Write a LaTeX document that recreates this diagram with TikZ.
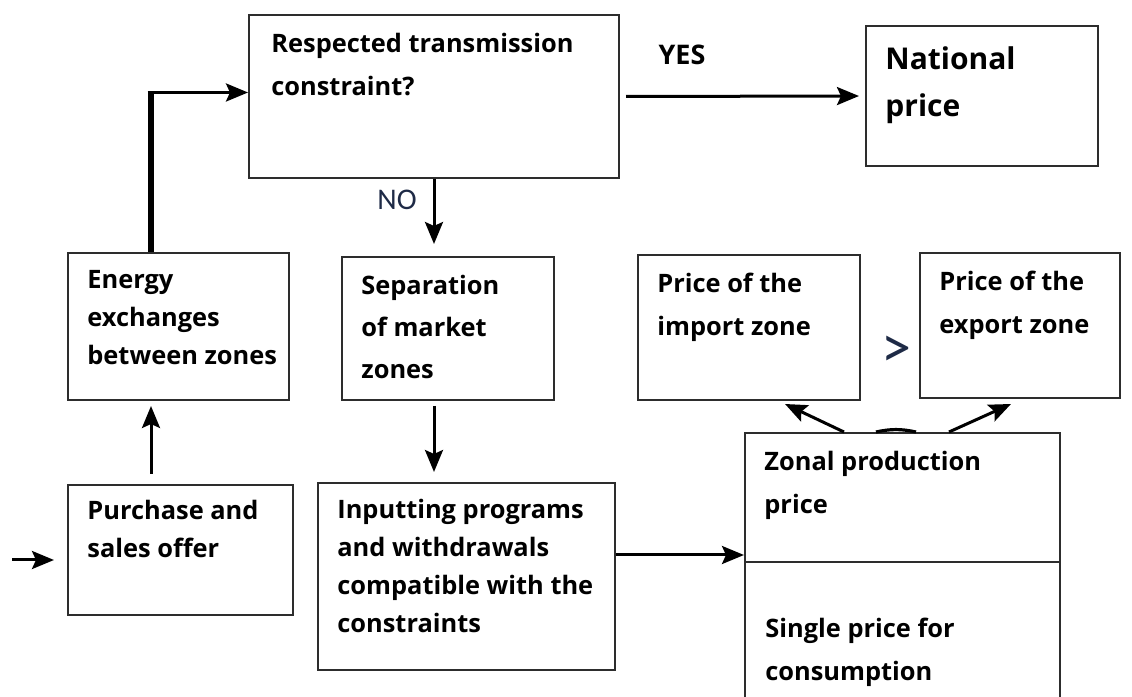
\documentclass[tikz,border=0pt]{standalone}
\usepackage{fontspec}
\setmainfont{Open Sans}
\newfontfamily\narrowfont{Carlito}
\usetikzlibrary{arrows.meta, positioning, fit}
\definecolor{inkline}{RGB}{45,45,45}
\definecolor{labelink}{RGB}{30,42,70}
\tikzset{
  box/.style    = {rectangle, draw=inkline, line width=1pt, inner sep=0pt},
  txt/.style    = {inner sep=0pt, align=left, font=\bfseries\fontsize{12.7}{#1}\selectfont},
  txt/.default  = 21.5,
  big/.style    = {inner sep=0pt, align=left, font=\bfseries\fontsize{15}{23.5}\selectfont},
  tag/.style    = {inner sep=0pt, font=\narrowfont\fontsize{15}{18}\selectfont, text=labelink},
  arrow/.style  = {-{Stealth[length=11pt,width=9pt,inset=2pt]}, line width=1.5pt},
  riserline/.style = {line width=3.4pt},
}

\begin{document}
\begin{tikzpicture}[x=0.5pt, y=0.5pt]
  \useasboundingbox (0,0) rectangle (1132,697);

  % ---- top row ----
  \node[box, fit={(249,682) (619,519)}]  (resp) {};
  \node[box, fit={(866,671) (1098,531)}] (natl) {};
  \node[txt, below right=9.5pt and 11.5pt of resp.north west] (resptxt) {Respected transmission\\constraint?};
  \node[big, below right=10.5pt and 10pt of natl.north west]  (natltxt) {National\\price};

  % ---- middle row ----
  \node[box, fit={(68,444) (289,297)}]   (energy) {};
  \node[box, fit={(342,440) (554,297)}]  (sep)    {};
  \node[box, fit={(638,442) (860,297)}]  (import) {};
  \node[box, fit={(920,444) (1120,299)}] (export) {};
  \node[txt=19, below right=9pt and 10pt of energy.north west] (energytxt) {Energy\\exchanges\\between zones};
  \node[txt=21, below right=9.5pt and 10pt of sep.north west]  (septxt)    {Separation\\of market\\zones};
  \node[txt, below right=9.5pt and 10pt of import.north west]  (importtxt) {Price of the\\import zone};
  \node[txt, below right=9.5pt and 10pt of export.north west]  (exporttxt) {Price of the\\export zone};
  \node[tag, font=\narrowfont\fontsize{30}{32}\selectfont] (gt) at (896,345) {>};

  % ---- bottom row ----
  \node[box, fit={(68,212) (293,82)}]    (purchase) {};
  \node[box, fit={(318,214) (615,27)}]   (input)    {};
  \node[box, fit={(745,264) (1060,-5)}]  (zonal)    {};
  \coordinate (split) at (745,135);
  \draw[draw=inkline, line width=1pt] (split) -- (split -| zonal.east);
  \node[txt=19, below right=8pt and 10pt of purchase.north west] (purchasetxt) {Purchase and\\sales offer};
  \node[txt=19, below right=8.5pt and 10pt of input.north west]  (inputtxt)    {Inputting programs\\and withdrawals\\compatible with the\\constraints};
  \node[txt, below right=9.5pt and 10pt of zonal.north west]     (zonaltxt)    {Zonal production\\price};
  \node[txt, below right=28pt and 10pt of split]                 (singletxt)   {Single price for\\consumption};

  % ---- decision arrows ----
  \draw[arrow, shorten <=3pt, shorten >=3pt] (resp.east) -- (natl.west);
  \node[inner sep=0pt, font=\bfseries\fontsize{13.5}{15}\selectfont] (yes) at (682,642) {YES};
  \draw[arrow, shorten >=6pt] (resp.south) -- (resp.south |- sep.north);
  \node[tag] (no) at (397,497) {NO};

  % ---- feed into the check ----
  \coordinate (riser) at ([xshift=42pt]energy.north west);
  \coordinate (elbow) at ([yshift=2pt]riser |- resp.west);
  \draw[riserline] (riser) -- ([yshift=-1pt]elbow);
  \draw[arrow] ([xshift=-1.7pt]elbow) -- (elbow -| resp.west);
  \draw[arrow, shorten <=5pt, shorten >=2.5pt] ([xshift=42pt]purchase.north west) -- ([xshift=42pt]energy.south west);

  % ---- separation chain ----
  \draw[arrow, shorten <=2.5pt, shorten >=5pt] (resp.south |- sep.south) -- (resp.south |- input.north);
  \coordinate (outlet) at ([yshift=10.75pt]input.east);
  \draw[arrow] (outlet) -- (outlet -| zonal.west);

  % ---- zonal prices ----
  \draw[arrow] ([xshift=50pt]zonal.north west) -- ([xshift=74pt, yshift=-1.5pt]import.south west);
  \draw[arrow] ([xshift=102.5pt]zonal.north west) -- ([xshift=46pt, yshift=-2.5pt]export.south west);
  \draw[line width=1.6pt] ([xshift=66pt]zonal.north west) to[bend left=12] ([xshift=86pt]zonal.north west);

  % ---- lead-in ----
  \coordinate (src) at (12,137);
  \draw[arrow, shorten >=6.5pt] (src) -- (src -| purchase.west);
\end{tikzpicture}
\end{document}
